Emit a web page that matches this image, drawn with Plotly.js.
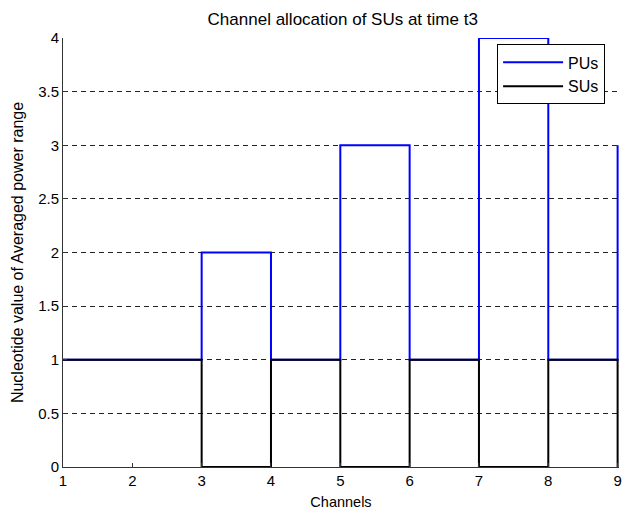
<!DOCTYPE html>
<html>
<head>
<meta charset="utf-8">
<script src="https://cdn.plot.ly/plotly-3.0.1.min.js"></script>
<style>html,body{margin:0;padding:0;background:#fff;}#chart{width:622px;height:510px;}</style>
</head>
<body>
<div id="chart"></div>
<script>
const channels = [1, 2, 3, 4, 5, 6, 7, 8, 9];
const puValues = [1, 1, 2, 1, 3, 1, 4, 1, 3];
const suValues = [1, 1, 0, 1, 0, 1, 0, 1, 0];
const xTicks = [1, 2, 3, 4, 5, 6, 7, 8, 9];
const yTicks = [0, 0.5, 1, 1.5, 2, 2.5, 3, 3.5, 4];
const yTickText = ['0', '0.5', '1', '1.5', '2', '2.5', '3', '3.5', '4'];

const fam = 'Liberation Sans, Arial, sans-serif';
const tickFont = {family: fam, size: 15, color: '#000'};

const traces = [
  {x: channels, y: puValues, type: 'scatter', mode: 'lines', name: 'PUs',
   line: {shape: 'hv', color: '#0000ff', width: 2}},
  {x: channels, y: suValues, type: 'scatter', mode: 'lines', name: 'SUs',
   line: {shape: 'hv', color: '#000000', width: 2}}
];

const layout = {
  width: 622, height: 510,
  margin: {l: 63, r: 3, t: 38, b: 43, pad: 0},
  paper_bgcolor: '#fff', plot_bgcolor: '#fff',
  font: tickFont,
  title: {text: 'Channel allocation of SUs at time t3', font: {family: fam, size: 17, color: '#000'},
          x: 0.551, xanchor: 'center', y: 0.963, yanchor: 'middle'},
  xaxis: {
    range: [1, 9.02], tickvals: xTicks, ticktext: xTicks.map(String),
    showgrid: false, zeroline: false, showline: true, linecolor: '#333', linewidth: 1,
    ticks: 'inside', ticklen: 4, tickcolor: '#333', tickfont: tickFont,
    ticklabeloverflow: 'allow',
    title: {text: 'Channels', font: {family: fam, size: 14.5, color: '#000'}, standoff: 9}
  },
  yaxis: {
    range: [0, 4], tickvals: yTicks, ticktext: yTickText,
    showgrid: true, gridcolor: '#222', griddash: '5px,4px', gridwidth: 1,
    zeroline: false, showline: true, linecolor: '#333', linewidth: 1,
    ticks: 'inside', ticklen: 4, tickcolor: '#333', tickfont: tickFont,
    ticklabeloverflow: 'allow',
    title: {text: 'Nucleotide value of Averaged power range', font: {family: fam, size: 16, color: '#000'}, standoff: 10}
  },
  showlegend: true,
  legend: {x: 0.975, xanchor: 'right', y: 0.985, yanchor: 'top',
           bgcolor: '#fff', bordercolor: '#000', borderwidth: 1,
           font: {family: fam, size: 16, color: '#000'}, itemwidth: 60,
           tracegroupgap: 0}
};

Plotly.newPlot('chart', traces, layout, {displayModeBar: false, staticPlot: true});
</script>
</body>
</html>
